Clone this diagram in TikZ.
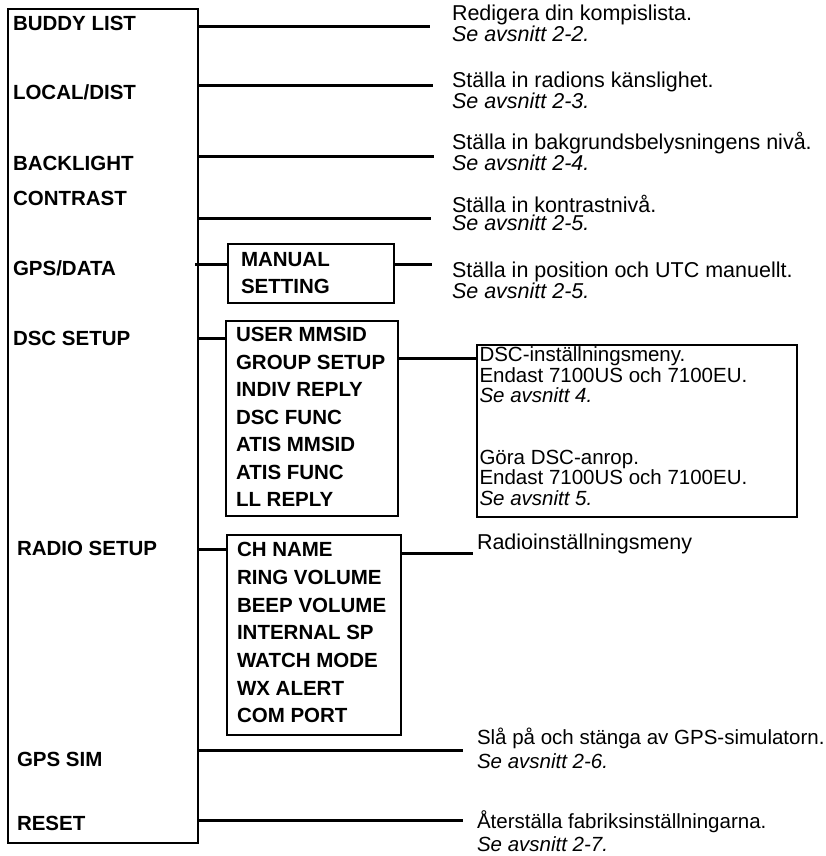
\documentclass[tikz,border=0pt]{standalone}
\usepackage{fontspec}
\setmainfont{Liberation Sans}
\tikzset{
  mn/.style={x=1pt,y=-1pt,line width=2pt},
  frm/.style={draw,line width=2pt,anchor=north west,inner sep=0,outer sep=0},
  lbl/.style={anchor=base west,inner sep=0,font=\fontsize{20.5}{24}\selectfont\bfseries},
  desc/.style={anchor=base west,inner sep=0,align=left,font=\fontsize{21.5}{18.6}\selectfont},
  conn/.style={line width=3pt}
}
\newcommand{\sref}[1]{\textit{Se avsnitt #1.}}

\begin{document}
\begin{tikzpicture}[mn]
  \useasboundingbox (0,0) rectangle (826,856);
  \node[frm,minimum width=190,minimum height=834] (menu) at (7.5,9) {};
  \foreach \n/\t/\x/\y in {buddy/BUDDY LIST/12/30.5,local/{LOCAL/DIST}/12/100,back/BACKLIGHT/12/170,
      contr/CONTRAST/12/205,gps/{GPS/DATA}/12/275,dscset/DSC SETUP/12/345,radioset/RADIO SETUP/16/555,
      sim/GPS SIM/16/766,reset/RESET/16/830}
    \node[lbl] (\n) at (\x,\y) {\t};

  \node[frm,minimum width=166,minimum height=59] (manual) at (228.3,244) {};
  \node[lbl] (man1) at (240,266.5) {MANUAL};
  \node[lbl] (man2) at (240,293.3) {SETTING};
  \node[frm,minimum width=172,minimum height=195] (dsc) at (225.5,321) {};
  \foreach \t [count=\i] in {USER MMSID,GROUP SETUP,INDIV REPLY,DSC FUNC,ATIS MMSID,ATIS FUNC,LL REPLY}
    \node[lbl] (dsc\i) at (235,{314.3+27.5*\i}) {\t};
  \node[frm,minimum width=174,minimum height=200] (radio) at (227,535) {};
  \foreach \t [count=\i] in {CH NAME,RING VOLUME,BEEP VOLUME,INTERNAL SP,WATCH MODE,WX ALERT,COM PORT}
    \node[lbl] (radio\i) at (236,{529+27.67*\i}) {\t};
  \node[frm,minimum width=320.5,minimum height=172] (dscinfo) at (476.5,345) {};

  \node[desc] (dbuddy) at (451,41.9) {Redigera din kompislista.\\\sref{2-2}};
  \node[desc] (dlocal) at (451,108.6) {Ställa in radions känslighet.\\\sref{2-3}};
  \node[desc] (dback) at (451,170.6) {Ställa in bakgrundsbelysningens nivå.\\\sref{2-4}};
  \node[desc] (dcontr) at (451,230.6) {Ställa in kontrastnivå.\\\sref{2-5}};
  \node[desc] (dmanual) at (451,298.6) {Ställa in position och UTC manuellt.\\\sref{2-5}};
  \node[desc,font=\fontsize{20.5}{20.5}\selectfont] (ddsc) at (478.5,505.2)
    {DSC-inställningsmeny.\\Endast 7100US och 7100EU.\\\sref{4}\\[41pt]Göra DSC-anrop.\\Endast 7100US och 7100EU.\\\sref{5}};
  \node[desc] (dradio) at (476,549.5) {Radioinställningsmeny};
  \node[desc,font=\fontsize{20.5}{24}\selectfont] (dsim) at (476,768) {Slå på och stänga av GPS-simulatorn.\\\sref{2-6}};
  \node[desc,font=\fontsize{20.5}{23}\selectfont] (dreset) at (476,851) {Återställa fabriksinställningarna.\\\sref{2-7}};

  \coordinate (ebuddy) at (430,27);
  \coordinate (elocal) at (433,86);
  \coordinate (eback) at (434,156);
  \coordinate (econtr) at (431,218);
  \coordinate (egps) at (195,264.5);
  \coordinate (emanual) at (432,264);
  \coordinate (edsc) at (0,338);
  \coordinate (edscout) at (0,358);
  \coordinate (eradio) at (0,549);
  \coordinate (eradioout) at (473,553.5);
  \coordinate (esim) at (463,750.7);
  \coordinate (ereset) at (463,820.7);
  \foreach \e in {ebuddy,elocal,eback,econtr,esim,ereset}
    \draw[conn] (menu.east |- \e) -- (\e);
  \draw[conn] (egps) -- (manual.west |- egps);
  \draw[conn] (manual.east |- emanual) -- (emanual);
  \draw[conn] (menu.east |- edsc) -- (dsc.west |- edsc);
  \draw[conn] (dsc.east |- edscout) -- (dscinfo.west |- edscout);
  \draw[conn] (menu.east |- eradio) -- (radio.west |- eradio);
  \draw[conn] (radio.east |- eradioout) -- (eradioout);
\end{tikzpicture}
\end{document}
